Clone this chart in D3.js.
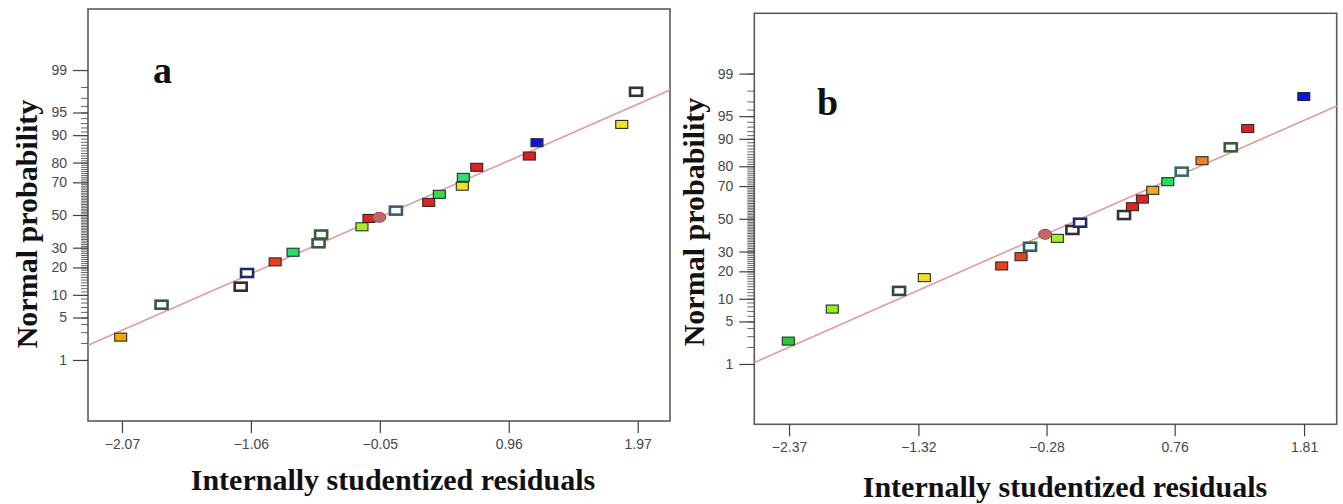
<!DOCTYPE html>
<html>
<head>
<meta charset="utf-8">
<script src="https://cdn.jsdelivr.net/npm/d3@7/dist/d3.min.js"></script>
<style>
  body { margin: 0; background: #fff; }
  svg { display: block; }
  .tick text { font-family: "Liberation Sans", Arial, sans-serif; font-size: 14px; fill: #484848; }
  .tick line { stroke: #404040; }
  .ttl { font-family: "Liberation Serif", "Times New Roman", serif; font-weight: bold; fill: #111; }
</style>
</head>
<body>
<svg id="chart" width="1343" height="504"></svg>
<script>
// ---- data ----
const xTicksA = [-2.07, -1.06, -0.05, 0.96, 1.97];
const xTicksB = [-2.37, -1.32, -0.28, 0.76, 1.81];
const probTicks = [1, 5, 10, 20, 30, 50, 70, 80, 90, 95, 99];
const probMinor = d3.range(1, 100);

// panel a : residual, normal probability (%)
const residA = [-2.08, -1.76, -1.14, -1.09, -0.87, -0.73, -0.53, -0.51, -0.19, -0.135, -0.054,
  0.076, 0.333, 0.416, 0.596, 0.604, 0.709, 1.121, 1.181, 1.845, 1.957];
const probA = [2.5, 7.5, 12.5, 17.6, 22.6, 27.5, 32.5, 37.7, 42.5, 47.8, 48.5,
  52.8, 58.0, 63.0, 67.8, 72.7, 77.8, 82.8, 87.7, 92.7, 97.6];
const lineA = [[-2.336, 1.83], [2.223, 97.76]];

// panel b
const residB = [-2.376, -2.019, -1.477, -1.272, -0.644, -0.487, -0.414, -0.192, -0.292, -0.070,
  -0.008, 0.349, 0.417, 0.498, 0.582, 0.704, 0.817, 0.982, 1.215, 1.353, 1.808];
const probB = [2.5, 7.4, 12.4, 17.3, 22.5, 27.2, 32.7, 37.7, 40.2, 42.9,
  47.5, 52.4, 57.7, 62.4, 67.6, 72.4, 77.5, 82.4, 87.4, 92.6, 97.5];
const lineB = [[-2.652, 1.06], [2.075, 96.47]];

// marker styles (kind, colour) in the same order as the points
const styleA = [
  ['f', '#f5a500'], ['h', '#2f5358'], ['h', '#3a2a2a'], ['h', '#1e2a6e'], ['f', '#e8401a'],
  ['f', '#25e06a'], ['h', '#3c5a3c'], ['h', '#3c5a3c'], ['f', '#a8f020'], ['f', '#e82020'],
  ['e', '#c46666'], ['h', '#3e5a70'], ['f', '#e82020'], ['f', '#30e040'], ['f', '#f5e020'],
  ['f', '#30e070'], ['f', '#e02020'], ['f', '#e02020'], ['f', '#0a14e6'], ['f', '#f2e41c'],
  ['h', '#2a3a2a']];
const styleB = [
  ['f', '#20d030'], ['f', '#90f020'], ['h', '#304848'], ['f', '#f5e020'], ['f', '#e8401a'],
  ['f', '#e8401a'], ['h', '#306060'], ['f', '#a0f020'], ['e', '#c46666'], ['h', '#3a2a2a'],
  ['h', '#1e2a6e'], ['h', '#3a3030'], ['f', '#e82020'], ['f', '#e82020'], ['f', '#f5a520'],
  ['f', '#25e060'], ['h', '#3a6a60'], ['f', '#f08020'], ['h', '#3c5a3c'], ['f', '#e02020'],
  ['f', '#0a14e6']];

// inverse normal cdf (Acklam)
function probit(p) {
  const a = [-39.69683028665376, 220.9460984245205, -275.9285104469687, 138.357751867269, -30.66479806614716, 2.506628277459239];
  const b = [-54.47609879822406, 161.5858368580409, -155.6989798598866, 66.80131188771972, -13.28068155288572];
  const c = [-0.007784894002430293, -0.3223964580411365, -2.400758277161838, -2.549732539343734, 4.374664141464968, 2.938163982698783];
  const d = [0.007784695709041462, 0.3224671290700398, 2.445134137142996, 3.754408661907416];
  const pl = 0.02425;
  let q, r;
  if (p < pl) {
    q = Math.sqrt(-2 * Math.log(p));
    return (((((c[0]*q+c[1])*q+c[2])*q+c[3])*q+c[4])*q+c[5]) / ((((d[0]*q+d[1])*q+d[2])*q+d[3])*q+1);
  }
  if (p > 1 - pl) {
    q = Math.sqrt(-2 * Math.log(1 - p));
    return -(((((c[0]*q+c[1])*q+c[2])*q+c[3])*q+c[4])*q+c[5]) / ((((d[0]*q+d[1])*q+d[2])*q+d[3])*q+1);
  }
  q = p - 0.5; r = q * q;
  return (((((a[0]*r+a[1])*r+a[2])*r+a[3])*r+a[4])*r+a[5])*q / (((((b[0]*r+b[1])*r+b[2])*r+b[3])*r+b[4])*r+1);
}

const svg = d3.select('#chart');

function panel(cfg) {
  const x = d3.scaleLinear().domain(cfg.xDomain).range([cfg.left, cfg.right]);
  const zs = d3.scaleLinear().domain([-cfg.zMax, cfg.zMax]).range([cfg.bottom, cfg.top]);
  const y = p => zs(probit(p / 100));
  const g = svg.append('g');

  // frame
  g.append('rect')
    .attr('x', cfg.left).attr('y', cfg.top)
    .attr('width', cfg.right - cfg.left).attr('height', cfg.bottom - cfg.top)
    .attr('fill', 'none').attr('stroke', '#5a5a5a').attr('stroke-width', 1.6);

  // x axis
  const xa = g.append('g').attr('transform', `translate(0,${cfg.bottom})`)
    .call(d3.axisBottom(x).tickValues(cfg.xTicks).tickSize(12).tickSizeOuter(0)
      .tickPadding(6).tickFormat(d3.format('.2f')));
  xa.select('.domain').remove();
  xa.selectAll('.tick line').attr('stroke-width', 1.2);

  // y axis, minor then major
  const yMinor = g.append('g').attr('transform', `translate(${cfg.left},0)`)
    .call(d3.axisLeft(zs).tickValues(probMinor.map(p => probit(p / 100))).tickSize(7).tickFormat(''));
  yMinor.select('.domain').remove();
  yMinor.selectAll('.tick line').attr('stroke-width', 0.8);
  const yMajor = g.append('g').attr('transform', `translate(${cfg.left},0)`)
    .call(d3.axisLeft(zs).tickValues(probTicks.map(p => probit(p / 100))).tickSize(15).tickPadding(6)
      .tickFormat((d, i) => probTicks[i]));
  yMajor.select('.domain').remove();
  yMajor.selectAll('.tick line').attr('stroke-width', 1.2);

  // reference line
  g.append('path')
    .datum(cfg.line)
    .attr('d', d3.line().x(d => x(d[0])).y(d => y(d[1])))
    .attr('stroke', '#e49a9a').attr('stroke-width', 1.6).attr('fill', 'none');

  // points
  const pts = cfg.resid.map((r, i) => ({ r, p: cfg.prob[i], kind: cfg.style[i][0], col: cfg.style[i][1] }));
  const mk = g.selectAll('.pt').data(pts).enter();
  mk.filter(d => d.kind !== 'e').append('rect')
    .attr('x', d => x(d.r) - 6).attr('y', d => y(d.p) - 4)
    .attr('width', 12).attr('height', 8)
    .attr('fill', d => d.kind === 'h' ? '#fff' : d.col)
    .attr('stroke', d => d.kind === 'h' ? d.col : '#2a2a2a')
    .attr('stroke-width', d => d.kind === 'h' ? 2.6 : 1.1);
  mk.filter(d => d.kind === 'e').append('ellipse')
    .attr('cx', d => x(d.r)).attr('cy', d => y(d.p))
    .attr('rx', 6.5).attr('ry', 5)
    .attr('fill', d => d.col).attr('stroke', '#8a4a4a').attr('stroke-width', 1);

  // titles
  g.append('text').attr('class', 'ttl')
    .attr('x', cfg.labelPos[0]).attr('y', cfg.labelPos[1])
    .style('font-size', '38px').text(cfg.label);
  g.append('text').attr('class', 'ttl')
    .attr('text-anchor', 'middle')
    .attr('x', cfg.xTitlePos[0]).attr('y', cfg.xTitlePos[1])
    .style('font-size', '30px').text('Internally studentized residuals');
  g.append('text').attr('class', 'ttl')
    .attr('text-anchor', 'middle')
    .attr('transform', `translate(${cfg.yTitlePos[0]},${cfg.yTitlePos[1]}) rotate(-90)`)
    .style('font-size', '30px').text('Normal probability');
}

panel({
  left: 88, right: 670, top: 9, bottom: 421, zMax: 3.306,
  xDomain: [-2.336, 2.223], xTicks: xTicksA,
  resid: residA, prob: probA, style: styleA, line: lineA,
  label: 'a', labelPos: [153, 83],
  xTitlePos: [393, 490], yTitlePos: [37, 224]
});

panel({
  left: 754.3, right: 1336.7, top: 13.3, bottom: 424.3, zMax: 3.293,
  xDomain: [-2.652, 2.075], xTicks: xTicksB,
  resid: residB, prob: probB, style: styleB, line: lineB,
  label: 'b', labelPos: [817, 115],
  xTitlePos: [1065, 497], yTitlePos: [704, 222]
});
</script>
</body>
</html>
